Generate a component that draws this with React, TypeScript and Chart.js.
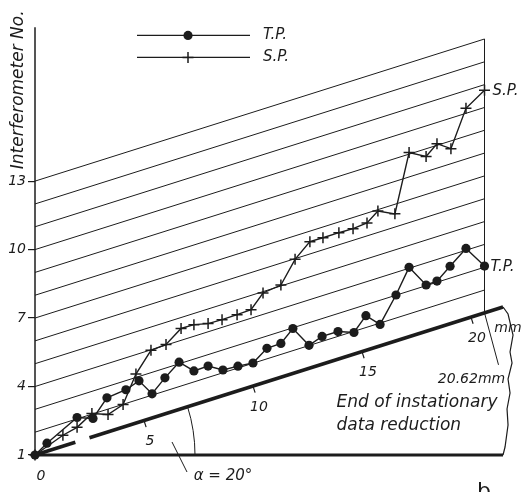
import React, { useEffect, useRef } from "react";
import { Chart, registerables } from "chart.js";

Chart.register(...registerables);

// ---- data (distance along model axis in mm, interferometer fringe number) ----
const tpMm = [0, 0.55, 1.93, 2.66, 3.3, 4.17, 4.77, 5.37, 5.96, 6.61, 7.29, 7.94, 8.62, 9.31, 10.0, 10.64, 11.28, 11.83, 12.57, 13.17, 13.9, 14.63, 15.18, 15.83, 16.56, 17.16, 17.94, 18.44, 19.04, 19.77, 20.62];
const tpNo = [1.0, 1.35, 2.06, 1.8, 2.51, 2.6, 2.81, 2.06, 2.58, 3.07, 2.48, 2.5, 2.12, 2.08, 2.01, 2.46, 2.48, 2.97, 2.01, 2.22, 2.21, 1.95, 2.52, 1.94, 3.01, 4.04, 3.03, 3.05, 3.52, 4.08, 3.05];
const spMm = [0, 1.28, 1.93, 2.61, 3.35, 4.04, 4.63, 5.32, 6.01, 6.7, 7.29, 7.94, 8.58, 9.27, 9.91, 10.46, 11.28, 11.93, 12.61, 13.21, 13.94, 14.59, 15.23, 15.73, 16.51, 17.16, 17.94, 18.44, 19.08, 19.77, 20.62];
const spNo = [1.0, 1.48, 1.63, 2.03, 1.76, 1.99, 3.15, 3.98, 4.03, 4.52, 4.51, 4.36, 4.34, 4.35, 4.37, 4.94, 5.04, 5.97, 6.54, 6.53, 6.53, 6.51, 6.57, 6.94, 6.58, 9.07, 8.66, 9.07, 8.66, 10.22, 10.75];

const yTicks = [1, 4, 7, 10, 13];
const mmTickMarks = [5, 10, 15, 20];
const mmLabels = [0, 5, 10, 15, 20];
const gridNos = [2, 3, 4, 5, 6, 7, 8, 9, 10, 11, 12, 13];
const seriesNames = ["T.P.", "S.P."];

const slant = 0.302; // drawn slope of the sheared axis, fringe units per mm
const endMm = 20.62; // end of instationary data reduction
const axisEndMm = 21.47;
const dashGap = [1.85, 2.5];
const xMax = 22.34;
const yMax = 20.48;
const yAxisTop = 19.745;

const INK = "#1c1c1c";
const sheared = (mm: number, n: number) => ({ x: mm, y: n + slant * mm });

export default function App() {
  const ref = useRef<HTMLCanvasElement>(null);

  useEffect(() => {
    const canvas = ref.current!;
    const line = (data: any[], width: number, extra: any = {}) => ({
      data,
      showLine: true,
      borderColor: INK,
      backgroundColor: INK,
      borderWidth: width,
      pointRadius: 0,
      clip: false,
      ...extra,
    });

    const tpData = tpMm.map((m, i) => sheared(m, tpNo[i]));
    const spData = spMm.map((m, i) => sheared(m, spNo[i]));

    const tickData: any[] = [];
    mmTickMarks.forEach((m) => {
      const a = sheared(m, 1);
      tickData.push(a);
      tickData.push({ x: m + 0.097, y: a.y - 0.29 });
      tickData.push({ x: m, y: null });
    });

    const datasets: any[] = [
      line(tpData, 1.4, {
        label: seriesNames[0],
        pointRadius: 4.6,
        pointStyle: "circle",
        pointBackgroundColor: INK,
        pointBorderColor: INK,
        pointBorderWidth: 0,
      }),
      line(spData, 1.4, {
        label: seriesNames[1],
        pointRadius: 5.5,
        pointStyle: "cross",
        pointBorderColor: INK,
        pointBorderWidth: 1.5,
      }),
      line([{ x: 0, y: 1 }, { x: 0, y: yAxisTop }], 1.5),
      line([sheared(endMm, 1), sheared(endMm, 13)], 1),
      line([sheared(0, 1), sheared(dashGap[0], 1)], 3.5),
      line([sheared(dashGap[1], 1), sheared(axisEndMm, 1)], 3.5),
      line([{ x: 0, y: 1 }, { x: axisEndMm, y: 1 }], 3),
      line(tickData, 1.2, { spanGaps: false }),
      ...gridNos.map((n) => line([sheared(0, n), sheared(endMm, n)], 1)),
    ];

    const annot = {
      id: "annot",
      afterDatasetsDraw(chart: any) {
        const ctx = chart.ctx as CanvasRenderingContext2D;
        const xs = chart.scales.x;
        const ys = chart.scales.y;
        const px = (mm: number) => xs.getPixelForValue(mm);
        const py = (mm: number, n: number) => ys.getPixelForValue(n + slant * mm);
        const font = (s: number) => `italic ${s}px "DejaVu Sans"`;
        ctx.save();
        ctx.fillStyle = INK;
        ctx.strokeStyle = INK;

        // sheared axis labels
        ctx.font = font(14);
        ctx.textAlign = "center";
        ctx.textBaseline = "middle";
        mmLabels.forEach((m) => ctx.fillText(String(m), px(m) + 6, py(m, 1) + 21));
        ctx.fillText("mm", px(20) + 37, py(20, 1) + 11);

        // angle arc
        const ox = px(0);
        const oy = py(0, 1);
        const ang = Math.atan2(oy - py(10, 1), px(10) - ox);
        ctx.lineWidth = 1;
        ctx.beginPath();
        ctx.arc(ox, oy, 160, -ang, 0);
        ctx.stroke();
        ctx.beginPath();
        ctx.moveTo(ox + 137, oy - 13);
        ctx.lineTo(ox + 152, oy + 17);
        ctx.stroke();
        ctx.font = font(15);
        ctx.fillText("\u03b1 = 20\u00b0", ox + 188, oy + 21);

        // end of data reduction
        const ex = px(endMm);
        const ey = py(endMm, 1);
        ctx.beginPath();
        ctx.moveTo(ex, ey);
        ctx.lineTo(ex + 14, ey + 52);
        ctx.stroke();
        ctx.font = font(14);
        ctx.fillText("20.62mm", ex - 13, ey + 66);
        ctx.font = font(17);
        ctx.textAlign = "left";
        ctx.fillText("End of instationary", ex - 148, ey + 90);
        ctx.fillText("data reduction", ex - 148, ey + 113);

        // break bracket at the right
        const bx = px(axisEndMm);
        const by = py(axisEndMm, 1);
        const bb = ys.getPixelForValue(1);
        const offs = [[0, 0], [5, 7], [10, 28], [7, 45], [9, 56], [5, 72], [7, 86], [4, 102], [5, 118], [2, 140]];
        ctx.lineWidth = 1.2;
        ctx.beginPath();
        offs.forEach(([dx, dy], i) => (i === 0 ? ctx.moveTo(bx + dx, by + dy) : ctx.lineTo(bx + dx, by + dy)));
        ctx.lineTo(bx, bb);
        ctx.stroke();

        // series end labels
        ctx.font = font(15);
        ctx.textAlign = "left";
        const lastTp = tpMm.length - 1;
        const lastSp = spMm.length - 1;
        ctx.fillText(seriesNames[1], px(spMm[lastSp]) + 8, py(spMm[lastSp], spNo[lastSp]) + 1);
        ctx.fillText(seriesNames[0], px(tpMm[lastTp]) + 6, py(tpMm[lastTp], tpNo[lastTp]) + 1);

        // legend
        const area = chart.chartArea;
        const lx0 = area.left + 102;
        const lx1 = area.left + 215;
        const lm = area.left + 153;
        const rows = [area.top + 25, area.top + 47];
        ctx.lineWidth = 1.4;
        rows.forEach((ry, i) => {
          ctx.beginPath();
          ctx.moveTo(lx0, ry);
          ctx.lineTo(lx1, ry);
          ctx.stroke();
          if (i === 0) {
            ctx.beginPath();
            ctx.arc(lm, ry, 4.6, 0, Math.PI * 2);
            ctx.fill();
          } else {
            ctx.lineWidth = 1.5;
            ctx.beginPath();
            ctx.moveTo(lm - 5.5, ry);
            ctx.lineTo(lm + 5.5, ry);
            ctx.moveTo(lm, ry - 5.5);
            ctx.lineTo(lm, ry + 5.5);
            ctx.stroke();
          }
          ctx.fillText(seriesNames[i], lx1 + 13, ry);
        });

        // panel letter
        ctx.font = '22px "DejaVu Sans"';
        ctx.textBaseline = "alphabetic";
        ctx.fillText("b", area.right - 45, area.bottom + 43);
        ctx.restore();
      },
    };

    const chart = new Chart(canvas, {
      type: "scatter",
      data: { datasets },
      options: {
        responsive: false,
        animation: false,
        events: [],
        layout: { autoPadding: false, padding: { top: 5, bottom: 37, left: 0, right: 0 } },
        plugins: { legend: { display: false }, tooltip: { enabled: false } },
        scales: {
          x: { type: "linear", display: false, min: 0, max: xMax },
          y: {
            type: "linear",
            position: "left",
            min: 1,
            max: yMax,
            afterBuildTicks: (s: any) => {
              s.ticks = yTicks.map((v) => ({ value: v }));
            },
            afterFit: (s: any) => {
              s.width = 35;
            },
            border: { display: false },
            grid: { drawOnChartArea: false, drawTicks: true, tickLength: 7, color: INK, lineWidth: 1.2 },
            ticks: {
              color: INK,
              padding: 2,
              font: { family: "DejaVu Sans", size: 14, style: "italic" },
              callback: (v: any) => String(v),
            },
            title: {
              display: true,
              text: "Interferometer No.",
              align: "end",
              color: INK,
              padding: { top: 8, bottom: 0 },
              font: { family: "DejaVu Sans", size: 17, style: "italic" },
            },
          },
        },
      },
      plugins: [annot],
    } as any);

    return () => chart.destroy();
  }, []);

  return (
    <div style={{ position: "absolute", left: 0, top: 0, width: 522, height: 492, background: "#fff" }}>
      <canvas ref={ref} width={522} height={492} style={{ display: "block" }} />
    </div>
  );
}
